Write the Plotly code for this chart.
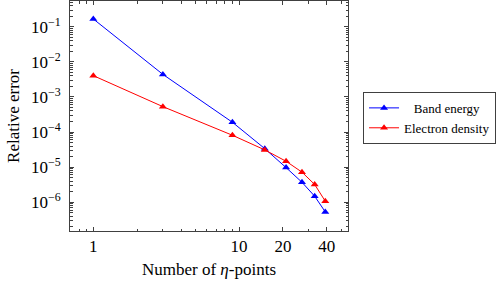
import numpy as np
import plotly.graph_objects as go

eta_points = [1, 3, 9, 15, 21, 27, 33, 39]
band_energy = [0.167, 4.4e-3, 1.9e-4, 3.37e-5, 9.7e-6, 3.7e-6, 1.48e-6, 5.3e-7]
electron_density = [4.05e-3, 5.3e-4, 8.1e-5, 3.1e-5, 1.47e-5, 7.2e-6, 3.2e-6, 1.07e-6]

x_tickvals = [1, 10, 20, 40]
x_ticktext = ["1", "10", "20", "40"]
y_tickvals = [1e-1, 1e-2, 1e-3, 1e-4, 1e-5, 1e-6]
y_ticktext = ["10<sup>−1</sup>", "10<sup>−2</sup>", "10<sup>−3</sup>",
              "10<sup>−4</sup>", "10<sup>−5</sup>", "10<sup>−6</sup>"]

x_minor = [m * 10 ** e for e in (-1, 0, 1) for m in range(2, 10) if m * 10 ** e not in (20, 40)]
x_minor = [v for v in x_minor if 0.68 < v < 56]
y_minor = [m * 10.0 ** e for e in range(-7, 0) for m in range(2, 10)]

font = "Liberation Serif"

fig = go.Figure()
fig.add_trace(go.Scatter(x=eta_points, y=band_energy, mode="lines+markers",
                         name="\u00a0\u00a0\u00a0Band energy",
                         line=dict(color="#0000ff", width=1),
                         marker=dict(symbol="triangle-up", size=7, color="#0000ff")))
fig.add_trace(go.Scatter(x=eta_points, y=electron_density, mode="lines+markers",
                         name="Electron density",
                         line=dict(color="#ff0000", width=1),
                         marker=dict(symbol="triangle-up", size=7, color="#ff0000")))

axis_common = dict(showgrid=False, zeroline=False, showline=True, linecolor="#404040",
                   linewidth=1, mirror="allticks", ticks="inside", ticklen=4,
                   tickcolor="#404040", tickwidth=1, automargin=False,
                   tickfont=dict(family=font, size=17, color="black"))

fig.update_xaxes(type="log", range=[-0.160, 1.747], tickvals=x_tickvals, ticktext=x_ticktext,
                 minor=dict(tickvals=x_minor, ticks="inside", ticklen=2.5, tickcolor="#404040"),
                 title=dict(text="Number of <i>η</i>-points", font=dict(family=font, size=17, color="black"),
                            standoff=7),
                 **axis_common)
fig.update_yaxes(type="log", range=[-6.82, -0.265], tickvals=y_tickvals, ticktext=y_ticktext,
                 minor=dict(tickvals=y_minor, ticks="inside", ticklen=2.5, tickcolor="#404040"),
                 ticklabelstandoff=5,
                 title=dict(text="Relative error", font=dict(family=font, size=17, color="black"),
                            standoff=6),
                 **axis_common)

fig.update_layout(
    width=498, height=282,
    margin=dict(l=70, r=150, t=1, b=51, autoexpand=False),
    plot_bgcolor="white", paper_bgcolor="white",
    showlegend=True,
    legend=dict(xref="container", yref="container", x=0.729, y=0.674,
                xanchor="left", yanchor="top",
                bordercolor="#404040", borderwidth=1,
                font=dict(family=font, size=13, color="black"),
                itemwidth=30, tracegroupgap=0),
)

fig.write_html("out.html", post_script="document.body.style.margin='0';",
               config={"displayModeBar": False})
